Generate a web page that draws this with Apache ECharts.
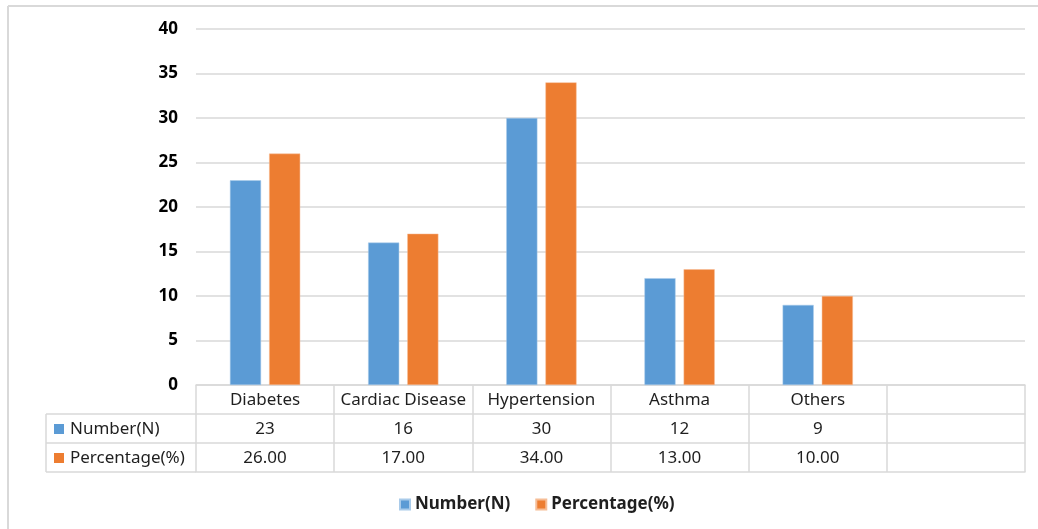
<!DOCTYPE html>
<html>
<head>
<meta charset="utf-8">
<script src="https://cdn.jsdelivr.net/npm/echarts@6/dist/echarts.min.js"></script>
<style>
html,body{margin:0;padding:0;background:#fff;}
#main{width:1038px;height:529px;}
</style>
</head>
<body>
<div id="main"></div>
<script>
const categories = ['Diabetes', 'Cardiac Disease', 'Hypertension', 'Asthma', 'Others', ''];
const numberN = [23, 16, 30, 12, 9, null];
const percentage = [26, 17, 34, 13, 10, null];
const seriesNames = ['Number(N)', 'Percentage(%)'];
const yTicks = { min: 0, max: 40, interval: 5 };

const FONT = 'Noto Sans';
const FS = 17;
const GRID = { left: 196, right: 13, top: 29, bottom: 144 };
const ROW_H = 29;
const TABLE_LEFT = 46;
const LINE = '#d9d9d9';
const TXT = '#1f1f1f';
const COLORS = ['#5B9BD5', '#ED7D31'];

const chart = echarts.init(document.getElementById('main'));
const zeroY = 529 - GRID.bottom;

function tableAxis(offset, formatter, showTicks) {
  return {
    type: 'category', data: categories, gridIndex: 0, position: 'bottom', offset: offset,
    axisLine: { show: true, lineStyle: { color: LINE, width: 1.5 } },
    axisTick: { show: showTicks, interval: 0, length: ROW_H, lineStyle: { color: LINE, width: 1.5 } },
    axisLabel: { show: !!formatter, interval: 0, margin: 7, fontFamily: FONT, fontSize: FS, color: TXT,
      formatter: formatter || undefined },
    splitLine: { show: false }
  };
}

const fmtN = (v, i) => numberN[i] == null ? '' : String(numberN[i]);
const fmtP = (v, i) => percentage[i] == null ? '' : percentage[i].toFixed(2);

const graphic = [
  { type: 'line', shape: { x1: 8, y1: 6, x2: 1038, y2: 6 }, style: { stroke: LINE, lineWidth: 2 } },
  { type: 'line', shape: { x1: 8, y1: 6, x2: 8, y2: 529 }, style: { stroke: LINE, lineWidth: 2 } },
  { type: 'line', shape: { x1: TABLE_LEFT, y1: zeroY + ROW_H, x2: GRID.left, y2: zeroY + ROW_H }, style: { stroke: LINE, lineWidth: 1.5 } },
  { type: 'line', shape: { x1: TABLE_LEFT, y1: zeroY + 2 * ROW_H, x2: GRID.left, y2: zeroY + 2 * ROW_H }, style: { stroke: LINE, lineWidth: 1.5 } },
  { type: 'line', shape: { x1: TABLE_LEFT, y1: zeroY + 3 * ROW_H, x2: GRID.left, y2: zeroY + 3 * ROW_H }, style: { stroke: LINE, lineWidth: 1.5 } },
  { type: 'line', shape: { x1: TABLE_LEFT, y1: zeroY + ROW_H, x2: TABLE_LEFT, y2: zeroY + 3 * ROW_H }, style: { stroke: LINE, lineWidth: 1.5 } }
];
seriesNames.forEach((name, k) => {
  const cy = zeroY + ROW_H * (k + 1) + ROW_H / 2;
  graphic.push({ type: 'rect', shape: { x: 54, y: cy - 4.5, width: 10, height: 10 }, style: { fill: COLORS[k] } });
  graphic.push({ type: 'text', x: 70, y: cy + 1, style: { text: name, font: FS + 'px "' + FONT + '"', fill: TXT, verticalAlign: 'middle', textAlign: 'left' } });
});

chart.setOption({
  animation: false,
  backgroundColor: '#fff',
  color: COLORS,
  grid: { left: GRID.left, right: GRID.right, top: GRID.top, bottom: GRID.bottom, containLabel: false },
  legend: {
    data: seriesNames, top: 491, left: 394, itemGap: 25, itemWidth: 10, itemHeight: 10, icon: 'rect',
    textStyle: { fontFamily: FONT, fontSize: FS, fontWeight: 'bold', color: TXT }
  },
  xAxis: [
    tableAxis(0, (v, i) => categories[i], true),
    tableAxis(ROW_H, fmtN, true),
    tableAxis(ROW_H * 2, fmtP, true),
    tableAxis(ROW_H * 3, null, false)
  ],
  yAxis: {
    type: 'value', min: yTicks.min, max: yTicks.max, interval: yTicks.interval,
    axisLine: { show: false }, axisTick: { show: false },
    axisLabel: { margin: 18, fontFamily: FONT, fontSize: 17, fontWeight: 'bold', color: '#000' },
    splitLine: { lineStyle: { color: LINE, width: 1.5 } }
  },
  graphic: graphic,
  series: [
    { name: seriesNames[0], type: 'bar', xAxisIndex: 0, data: numberN, barWidth: '22.5%', barGap: '26%',
      itemStyle: { color: COLORS[0], borderColor: '#a9cbea', borderWidth: 0.5 } },
    { name: seriesNames[1], type: 'bar', xAxisIndex: 0, data: percentage, barWidth: '22.5%', barGap: '26%',
      itemStyle: { color: COLORS[1], borderColor: '#f6bd96', borderWidth: 0.5 } }
  ]
});
</script>
</body>
</html>
